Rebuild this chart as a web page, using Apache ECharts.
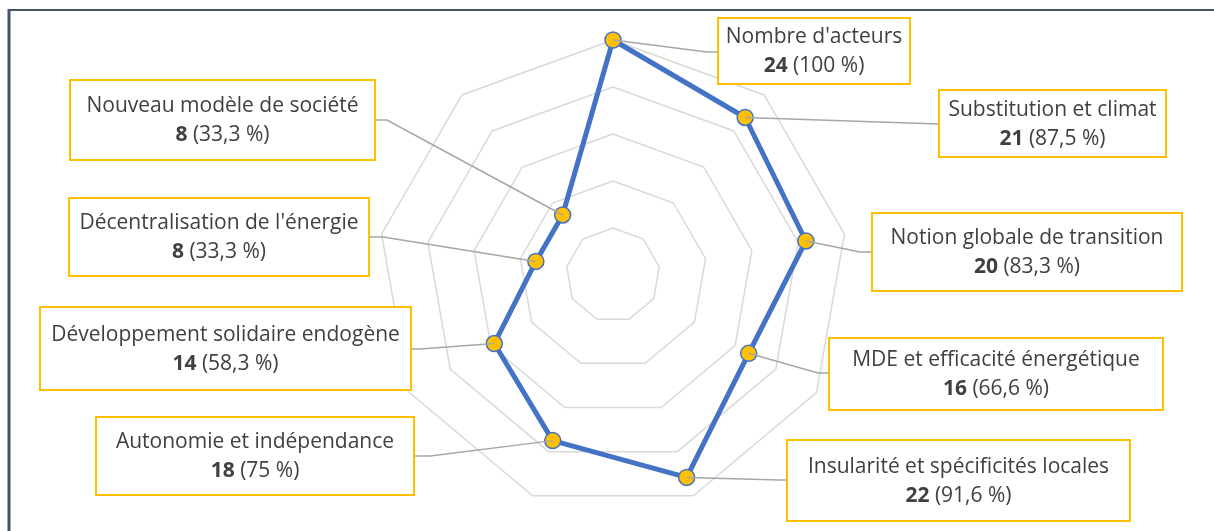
<!DOCTYPE html>
<html>
<head>
<meta charset="utf-8">
<script src="https://cdn.jsdelivr.net/npm/echarts@6/dist/echarts.min.js"></script>
<style>
  html, body { margin: 0; padding: 0; background: #fff; }
  #main { width: 1214px; height: 531px; }
</style>
</head>
<body>
<div id="main"></div>
<script>
// categories, clockwise from the top
var categories = ["Nombre d'acteurs", 'Substitution et climat', 'Notion globale de transition',
  'MDE et efficacité énergétique', 'Insularité et spécificités locales', 'Autonomie et indépendance',
  'Développement solidaire endogène', "Décentralisation de l'énergie", 'Nouveau modèle de société']
var counts = [24, 21, 20, 16, 22, 18, 14, 8, 8]
var percentLabels = ['100 %', '87,5 %', '83,3 %', '66,6 %', '91,6 %', '75 %', '58,3 %', '33,3 %', '33,3 %']
var maxCount = 24

// label boxes [x, y, w, h] and leader elbow [elbowX, elbowY, edgeX]
var boxes = [
  [718, 18, 192, 66], [939, 90, 227, 67], [872, 213, 310, 78], [829, 338, 334, 72],
  [787, 440, 343, 81], [96, 417, 318, 78], [40, 307, 371, 83], [69, 198, 300, 78], [70, 80, 305, 80]
]
var elbows = [
  [707, 52, 718], [939, 124, 939], [860, 252, 872], [818, 373, 829],
  [780, 480, 787], [430, 456, 414], [420, 349, 411], [383, 237, 369], [387, 120, 375]
]

// echarts lays radar indicators counter-clockwise, so reverse all but the first
var order = [0, 8, 7, 6, 5, 4, 3, 2, 1]

var myChart = echarts.init(document.getElementById('main'))
var option = {
  animation: false,
  radar: {
    center: [613, 275],
    radius: 235,
    splitNumber: 5,
    shape: 'polygon',
    indicator: order.map(function (i) { return { name: categories[i], min: 0, max: maxCount } }),
    axisName: { show: false },
    axisLine: { show: false },
    axisTick: { show: false },
    axisLabel: { show: false },
    splitArea: { show: false },
    splitLine: { lineStyle: { color: '#d9d9d9', width: 1.5 } }
  },
  series: [{
    type: 'radar',
    symbol: 'circle',
    symbolSize: 16,
    lineStyle: { color: '#4472C4', width: 5 },
    itemStyle: { color: '#FFC000', borderColor: '#4472C4', borderWidth: 1.5 },
    data: [{ value: order.map(function (i) { return counts[i] }) }]
  }]
}
myChart.setOption(option)

// annotation boxes with leader lines to the plotted points
var layout = myChart.getModel().getSeriesByIndex(0).getData().getItemLayout(0)
var elements = [
  { type: 'line', shape: { x1: 9, y1: 10, x2: 1214, y2: 10 }, style: { stroke: '#44546A', lineWidth: 2 }, silent: true },
  { type: 'line', shape: { x1: 9, y1: 9, x2: 9, y2: 531 }, style: { stroke: '#44546A', lineWidth: 3 }, silent: true }
]
categories.forEach(function (name, i) {
  var k = order.indexOf(i)
  var pt = layout[k]
  var b = boxes[i], e = elbows[i]
  elements.push({
    type: 'polyline', z: 10,
    shape: { points: [[pt[0], pt[1]], [e[0], e[1]], [e[2], e[1]]] },
    style: { stroke: '#a6a6a6', lineWidth: 1.5, fill: null }
  })
  elements.push({
    type: 'rect', z: 10,
    shape: { x: b[0], y: b[1], width: b[2], height: b[3] },
    style: { fill: '#fff', stroke: '#FFC000', lineWidth: 2 }
  })
  elements.push({
    type: 'text', z: 11,
    x: b[0] + b[2] / 2, y: b[1] + b[3] / 2 + 1,
    style: {
      text: name + '\n{b|' + counts[i] + '} (' + percentLabels[i] + ')',
      align: 'center', verticalAlign: 'middle',
      font: '21px "Open Sans"', fill: '#404040', lineHeight: 29,
      rich: { b: { font: 'bold 21px "Open Sans"', fill: '#404040', lineHeight: 29 } }
    }
  })
})
myChart.setOption({ graphic: { elements: elements } })
</script>
</body>
</html>
